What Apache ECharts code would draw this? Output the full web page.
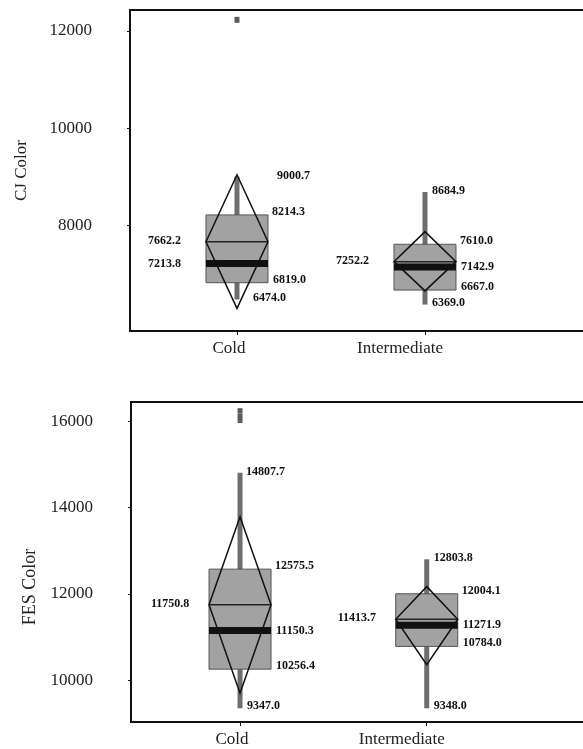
<!DOCTYPE html>
<html>
<head>
<meta charset="utf-8">
<script src="https://cdn.jsdelivr.net/npm/echarts@6/dist/echarts.min.js"></script>
<style>
html,body{margin:0;padding:0;background:#fff;}
#chart{width:583px;height:749px;}
</style>
</head>
<body>
<div id="chart"></div>
<script>
// ---------- data ----------
const categories = ['Cold', 'Intermediate'];

// CJ Color panel
const cjLow     = [6474.0, 6369.0];
const cjQ1      = [6819.0, 6667.0];
const cjMedian  = [7213.8, 7142.9];
const cjQ3      = [8214.3, 7610.0];
const cjHigh    = [9000.7, 8684.9];
const cjMean    = [7662.2, 7252.2];
const cjCiLow   = [6290, 6650];
const cjCiHigh  = [9040, 7870];
const cjOutliers = [[1, 12230]];
const cjTicks   = [8000, 10000, 12000];

// FES Color panel
const fesLow    = [9347.0, 9348.0];
const fesQ1     = [10256.4, 10784.0];
const fesMedian = [11150.3, 11271.9];
const fesQ3     = [12575.5, 12004.1];
const fesHigh   = [14807.7, 12803.8];
const fesMean   = [11750.8, 11413.7];
const fesCiLow  = [9700, 10360];
const fesCiHigh = [13790, 12170];
const fesOutliers = [[1, 16250], [1, 16130], [1, 16020]];
const fesTicks  = [10000, 12000, 14000, 16000];

// ---------- build ----------
const FONT = 'Liberation Serif';

function boxData(low, q1, med, q3, high, mean, ciL, ciH) {
  return categories.map((c, i) => [i + 1, low[i], q1[i], med[i], q3[i], high[i], mean[i], ciL[i], ciH[i]]);
}

// label placement per panel / category (style only)
const labelLayouts = [
  [ // CJ
    { high: 40, low: 16, medianLeft: true },
    { high: 7, low: 7, medianLeft: false }
  ],
  [ // FES
    { high: 6, low: 7, medianLeft: false },
    { high: 7, low: 7, medianLeft: false }
  ]
];

function fmt(v) { return v.toFixed(1); }

function makeRender(panel) {
  return function (params, api) {
    const x = api.value(0);
    const idx = params.dataIndex;
    const lay = labelLayouts[panel][idx];
    const v = k => api.value(k);
    const p = k => api.coord([x, v(k)]);
    const cx = p(1)[0];
    const yLow = p(1)[1], yQ1 = p(2)[1], yMed = p(3)[1], yQ3 = p(4)[1], yHigh = p(5)[1];
    const yMean = p(6)[1], yCiL = p(7)[1], yCiH = p(8)[1];
    const hw = 31;
    const txt = (str, tx, ty) => ({
      type: 'text', z2: 20,
      style: { text: str, x: tx, y: ty, fill: '#111', font: 'bold 12px "' + FONT + '"', textVerticalAlign: 'middle', textAlign: 'left' }
    });
    const children = [
      { type: 'rect', shape: { x: cx - 2.5, y: yHigh, width: 5, height: yLow - yHigh }, style: { fill: '#6e6e6e' } },
      { type: 'rect', shape: { x: cx - hw, y: yQ3, width: hw * 2, height: yQ1 - yQ3 }, style: { fill: '#a2a2a2', stroke: '#555', lineWidth: 1 } },
      { type: 'rect', shape: { x: cx - hw, y: yMed - 3.5, width: hw * 2, height: 7 }, style: { fill: '#111' } },
      { type: 'line', shape: { x1: cx - hw, y1: yMean, x2: cx + hw, y2: yMean }, style: { stroke: '#222', lineWidth: 1.5 } },
      { type: 'polygon', shape: { points: [[cx, yCiH], [cx + hw, yMean], [cx, yCiL], [cx - hw, yMean]] }, style: { fill: null, stroke: '#111', lineWidth: 1.5 } },
      txt(fmt(v(5)), cx + lay.high, yHigh - 1),
      txt(fmt(v(4)), cx + hw + 4, yQ3 - 3),
      txt(fmt(v(2)), cx + hw + 5, yQ1 - 3),
      txt(fmt(v(1)), cx + lay.low, yLow - 2),
      txt(fmt(v(6)), cx - 89, yMean - 1),
      txt(fmt(v(3)), lay.medianLeft ? cx - 89 : cx + hw + 5, yMed)
    ];
    return { type: 'group', children: children };
  };
}

const grids = [
  { left: 130, top: 10, width: 480, height: 321, xmin: 0.431, xmax: 2.984, ymin: 5825, ymax: 12432, ticks: cjTicks, name: 'CJ Color', nameGap: 100, namePad: [0, 0, 0, 0], nameSize: 17 },
  { left: 131, top: 402, width: 480, height: 320, xmin: 0.416, xmax: 2.987, ymin: 9031, ymax: 16451, ticks: fesTicks, name: 'FES Color', nameGap: 78, namePad: [0, 50, 0, 0], nameSize: 18 }
];

const option = {
  backgroundColor: '#fff',
  animation: false,
  grid: grids.map(g => ({ left: g.left, top: g.top, width: g.width, height: g.height, outerBoundsMode: 'none', containLabel: false, show: true, borderColor: '#111', borderWidth: 2, backgroundColor: 'transparent' })),
  xAxis: grids.map((g, i) => ({
    type: 'value', gridIndex: i, min: g.xmin, max: g.xmax,
    splitLine: { show: false },
    axisLine: { show: true, lineStyle: { color: '#111', width: 2 } },
    axisTick: { show: true, length: 4, customValues: [1, 2], lineStyle: { color: '#111' } },
    axisLabel: {
      customValues: [1, 2], margin: 9,
      formatter: val => val === 1 ? '{c|' + categories[0] + '}' : (val === 2 ? '{m|' + categories[1] + '}' : ''),
      rich: {
        c: { fontFamily: FONT, fontSize: 17, color: '#222', padding: [0, 16, 0, 0] },
        m: { fontFamily: FONT, fontSize: 17, color: '#222', padding: [0, 50, 0, 0] }
      }
    }
  })),
  yAxis: grids.map((g, i) => ({
    type: 'value', gridIndex: i, min: g.ymin, max: g.ymax,
    name: g.name, nameLocation: 'middle', nameGap: g.nameGap,
    nameTextStyle: { fontFamily: FONT, fontSize: g.nameSize, color: '#222', padding: g.namePad },
    splitLine: { show: false },
    axisLine: { show: true, lineStyle: { color: '#111', width: 2 } },
    axisTick: { show: true, length: 3, customValues: g.ticks, lineStyle: { color: '#111' } },
    axisLabel: { customValues: g.ticks, margin: 38, fontFamily: FONT, fontSize: 17, color: '#222', formatter: val => String(val) }
  })),
  series: [
    {
      type: 'custom', xAxisIndex: 0, yAxisIndex: 0, renderItem: makeRender(0),
      encode: { x: 0, y: [1, 2, 3, 4, 5, 6, 7, 8] },
      data: boxData(cjLow, cjQ1, cjMedian, cjQ3, cjHigh, cjMean, cjCiLow, cjCiHigh)
    },
    {
      type: 'scatter', xAxisIndex: 0, yAxisIndex: 0, symbol: 'rect', symbolSize: [5, 6],
      itemStyle: { color: '#333' }, data: cjOutliers
    },
    {
      type: 'custom', xAxisIndex: 1, yAxisIndex: 1, renderItem: makeRender(1),
      encode: { x: 0, y: [1, 2, 3, 4, 5, 6, 7, 8] },
      data: boxData(fesLow, fesQ1, fesMedian, fesQ3, fesHigh, fesMean, fesCiLow, fesCiHigh)
    },
    {
      type: 'scatter', xAxisIndex: 1, yAxisIndex: 1, symbol: 'rect', symbolSize: [5, 5],
      itemStyle: { color: '#333' }, data: fesOutliers
    }
  ]
};

const chart = echarts.init(document.getElementById('chart'), null, { renderer: 'canvas' });
chart.setOption(option);
</script>
</body>
</html>
